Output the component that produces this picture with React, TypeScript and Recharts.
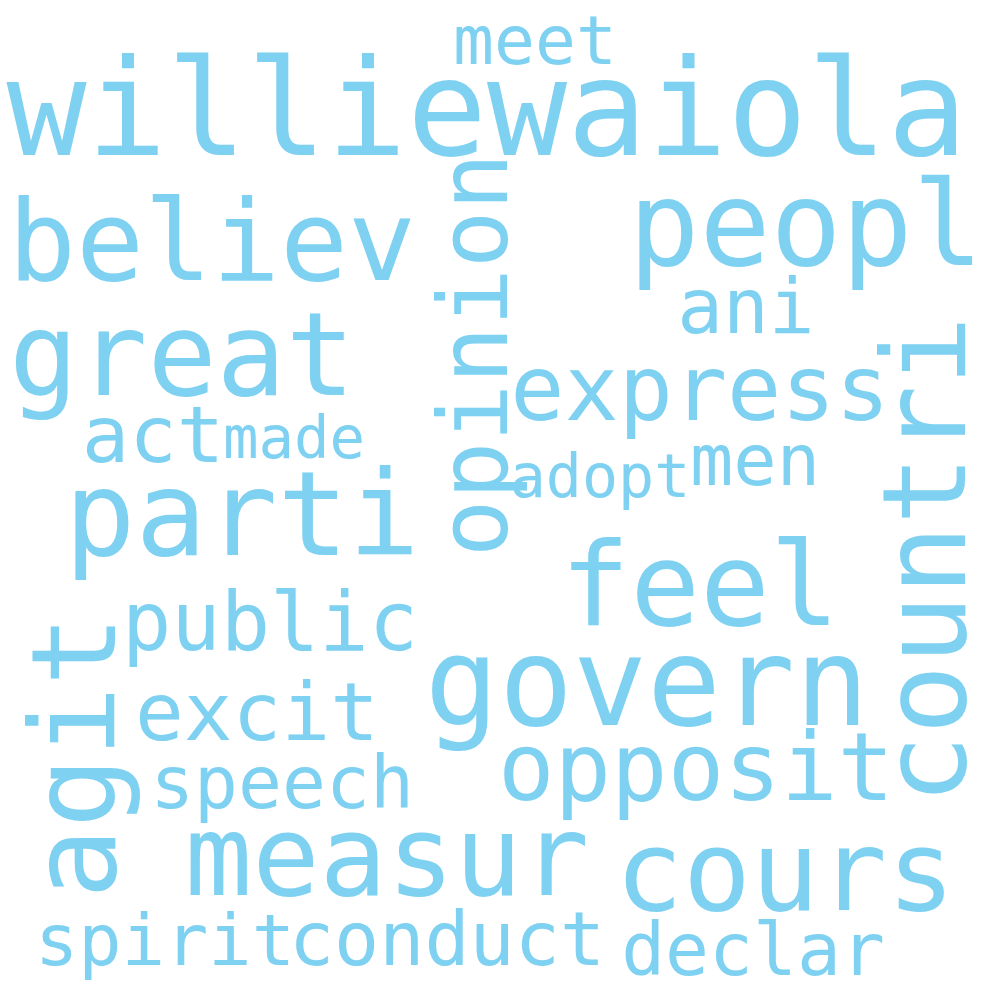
import React from 'react';
import { ScatterChart, Scatter, XAxis, YAxis } from 'recharts';

// word cloud terms
const words = ['williewaiola', 'meet', 'believ', 'peopl', 'opinion', 'great', 'ani', 'express', 'countri', 'act', 'made', 'adopt', 'men', 'parti', 'feel', 'govern', 'public', 'agit', 'excit', 'opposit', 'speech', 'measur', 'cours', 'spirit', 'conduct', 'declar'];
// anchor x (center) and baseline y in picture pixels
const xs = [487, 535, 212, 806, 507, 182, 746, 700, 965, 153, 294, 600, 755, 242, 700, 647, 270, 115, 257, 696, 282, 387, 785, 165, 447, 753];
const ys = [155, 64, 280, 265, 355, 395, 333, 420, 560, 462, 458, 497, 485, 555, 625, 725, 650, 757, 740, 800, 808, 895, 910, 965, 965, 975];
const sizes = [133, 68, 113, 118, 96, 115, 76, 90, 116, 79, 59, 60, 72, 118, 116, 123, 82, 118, 81, 94, 73, 112, 113, 72, 75, 73];
const rotations = [0, 0, 0, 0, -90, 0, 0, 0, -90, 0, 0, 0, 0, 0, 0, 0, 0, -90, 0, 0, 0, 0, 0, 0, 0, 0];

const data = words.map((w, i) => ({ word: w, x: xs[i], y: ys[i], size: sizes[i], rot: rotations[i] }));

const WordShape = (props: any) => {
  const { cx, cy, payload } = props;
  return (
    <text
      x={cx}
      y={cy}
      textAnchor="middle"
      fontFamily="DejaVu Sans Mono"
      fontSize={payload.size}
      fill="#7fd1f1"
      transform={payload.rot ? `rotate(${payload.rot} ${cx} ${cy})` : undefined}
    >
      {payload.word}
    </text>
  );
};

export default function App() {
  return (
    <div style={{ position: 'absolute', left: 0, top: 0, width: 1000, height: 1000, background: '#fff' }}>
      <ScatterChart width={1000} height={1000} margin={{ top: 0, right: 0, bottom: 0, left: 0 }}>
        <XAxis type="number" dataKey="x" domain={[0, 1000]} hide />
        <YAxis type="number" dataKey="y" domain={[0, 1000]} reversed hide />
        <Scatter data={data} shape={<WordShape />} isAnimationActive={false} />
      </ScatterChart>
    </div>
  );
}
